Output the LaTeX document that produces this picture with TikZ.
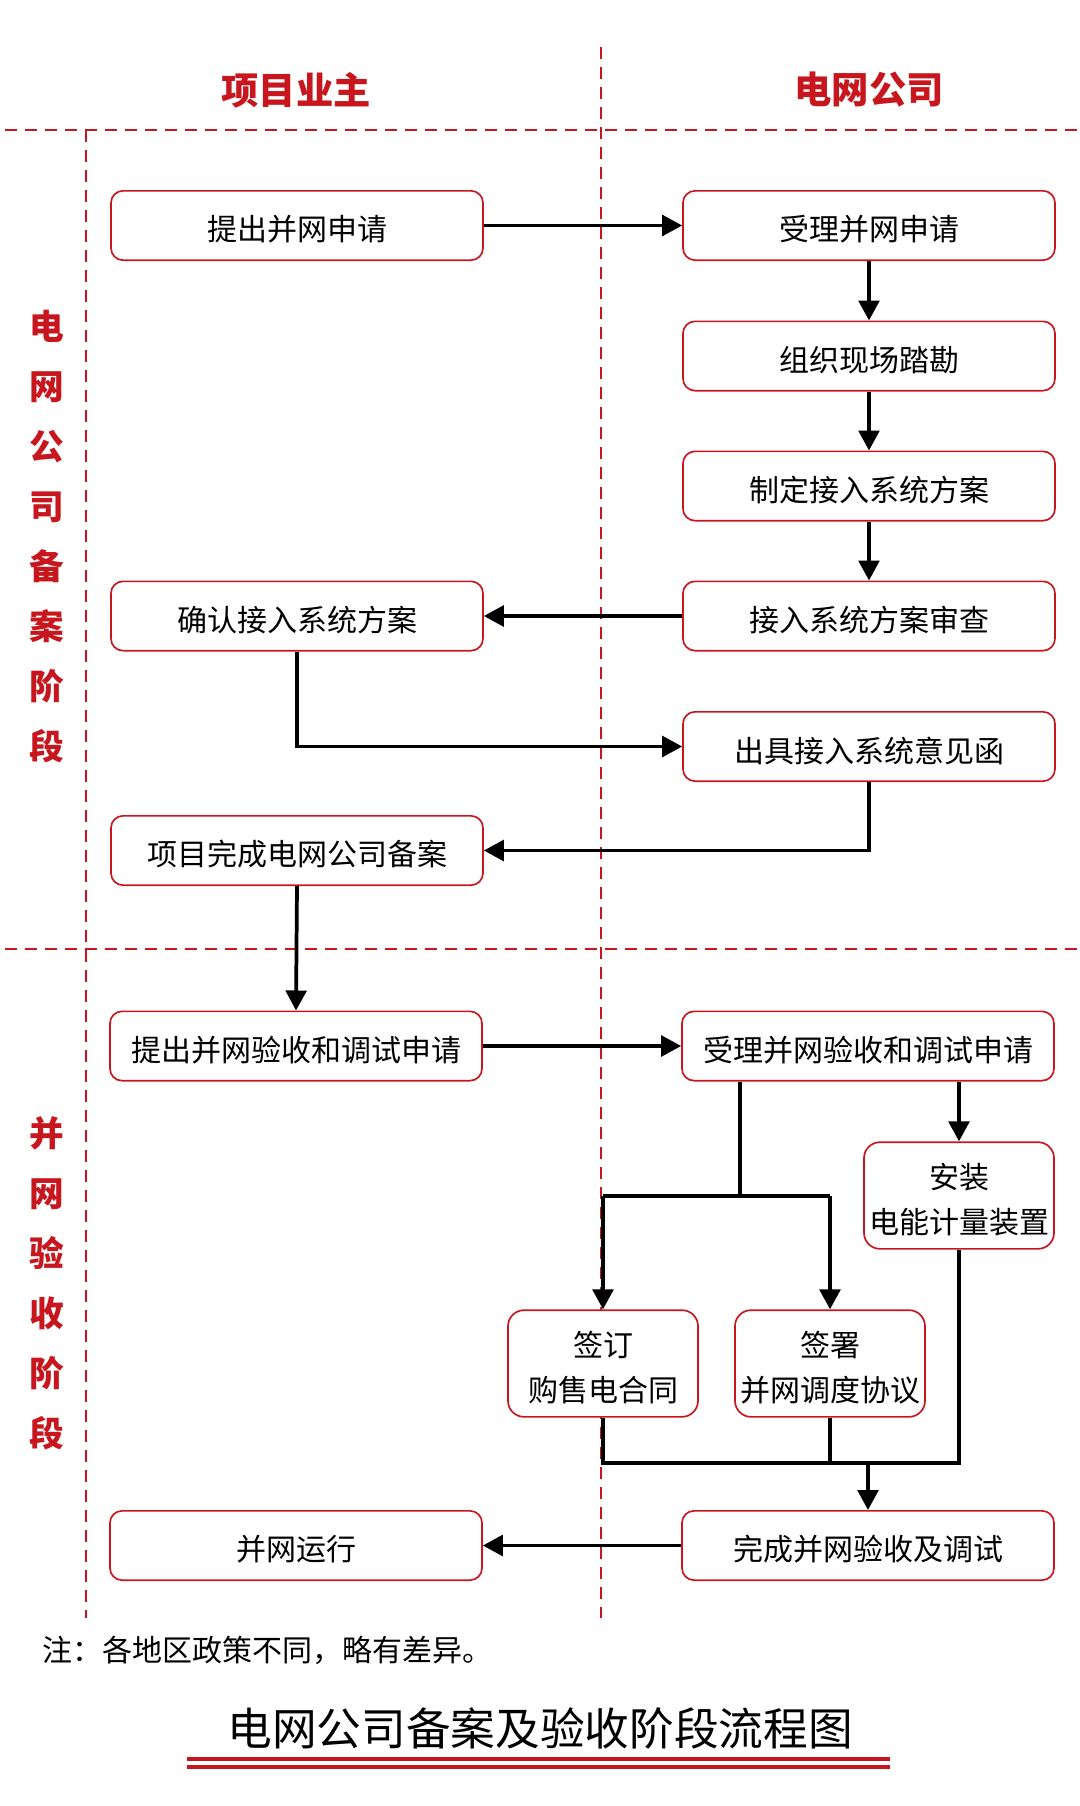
\documentclass[tikz,border=0pt]{standalone}
\usepackage{fontspec}
\setmainfont{Noto Sans CJK SC}
\usepackage{xcolor}
\usetikzlibrary{arrows.meta}
\definecolor{gridred}{RGB}{200,22,30}
\newcommand\lowtext[1]{\raisebox{-3pt}[\height][\depth]{#1}}
\tikzset{
  stepbox/.style={draw=gridred, fill=white, line width=1.25pt, rounded corners=9pt, minimum width=279pt, minimum height=52pt, inner sep=0pt, align=center, font=\fontsize{22.5}{33.75}\selectfont},
  smallbox/.style={stepbox, minimum width=142.5pt, minimum height=80pt, rounded corners=12pt},
  flow/.style={line width=2.8pt, -{Triangle[length=15pt,width=15.5pt]}},
  link/.style={line width=2.8pt},
  lane/.style={gridred, line width=1.5pt, dash pattern=on 9pt off 6pt},
  lanehead/.style={text=gridred, font=\bfseries\fontsize{28}{34}\selectfont},
  stage/.style={text=gridred, align=center, font=\bfseries\fontsize{26}{45}\selectfont}
}
\begin{document}
\begin{tikzpicture}
                \tikzset{x={(0.75pt, 0pt)}, y={(0pt, -0.75pt)}}
                \useasboundingbox (0, 0) rectangle (1080, 1806);
                \draw[lane, line width=2pt] (5, 130) -- (1080, 130);
                \draw[lane, line width=2pt] (5, 949) -- (1080, 949);
                \draw[lane] (86, 130) -- (86, 1618);
                \draw[lane] (601, 47) -- (601, 1618);
                \node[lanehead] (owner) at (296, 90) {项目业主};
                \node[lanehead] (grid) at (869, 90) {电网公司};
                \node[stage] (filing) at (47, 537) {电\\网\\公\\司\\备\\案\\阶\\段};
                \node[stage] (accept) at (47, 1283) {并\\网\\验\\收\\阶\\段};
                \node[stepbox] (apply) at (297, 225.5) {\lowtext{提出并网申请}};
                \node[stepbox] (receive) at (869, 225.5) {\lowtext{受理并网申请}};
                \node[stepbox] (survey) at (869, 356) {\lowtext{组织现场踏勘}};
                \node[stepbox] (scheme) at (869, 486) {\lowtext{制定接入系统方案}};
                \node[stepbox] (review) at (869, 616) {\lowtext{接入系统方案审查}};
                \node[stepbox] (confirm) at (297, 616) {\lowtext{确认接入系统方案}};
                \node[stepbox] (opinion) at (869, 746.5) {\lowtext{出具接入系统意见函}};
                \node[stepbox] (record) at (297, 850.5) {\lowtext{项目完成电网公司备案}};
                \node[stepbox] (checkapply) at (296, 1046) {\lowtext{提出并网验收和调试申请}};
                \node[stepbox] (checkreceive) at (868, 1046) {\lowtext{受理并网验收和调试申请}};
                \node[smallbox] (meter) at (959, 1195.5) {\lowtext{安装}\\\lowtext{电能计量装置}};
                \node[smallbox] (contract) at (603, 1363.5) {\lowtext{签订}\\\lowtext{购售电合同}};
                \node[smallbox] (dispatch) at (830, 1363.5) {\lowtext{签署}\\\lowtext{并网调度协议}};
                \node[stepbox] (finish) at (868, 1545.5) {\lowtext{完成并网验收及调试}};
                \node[stepbox] (run) at (296, 1545.5) {\lowtext{并网运行}};
                \draw[flow] (apply) -- (receive);
                \draw[flow] (receive) -- (survey);
                \draw[flow] (survey) -- (scheme);
                \draw[flow] (scheme) -- (review);
                \draw[flow] (review) -- (confirm);
                \draw[flow] (confirm.south) |- (opinion.west);
                \draw[flow] (opinion.south) |- (record.east);
                \draw[flow] (record.south) -- (checkapply.north);
                \draw[flow] (checkapply) -- (checkreceive);
                \coordinate (split) at (740, 1196);
                \coordinate (merge) at (868, 1463);
                \draw[link] (split |- checkreceive.south) -- (split);
                \draw[link] (contract.north |- split) -- (dispatch.north |- split);
                \draw[flow] (contract.north |- split) -- (contract.north);
                \draw[flow] (dispatch.north |- split) -- (dispatch.north);
                \draw[flow] (meter.north |- checkreceive.south) -- (meter.north);
                \draw[link] (contract.south) -- (contract.south |- merge) -- (meter.south |- merge) -- (meter.south);
                \draw[link] (dispatch.south) -- (dispatch.south |- merge);
                \draw[flow] (merge) -- (finish.north);
                \draw[flow] (finish) -- (run);
                \node[anchor=west, inner sep=0pt, font=\fontsize{22.5}{27}\selectfont] (note) at (42, 1650) {注：各地区政策不同，略有差异。};
                \node[font=\fontsize{33.5}{40}\selectfont] (title) at (540, 1728) {电网公司备案及验收阶段流程图};
                \draw[gridred, line width=3pt] (187, 1758.7) -- (890, 1758.7);
                \draw[gridred, line width=3pt] (187, 1767) -- (890, 1767);
            \end{tikzpicture}
\end{document}
